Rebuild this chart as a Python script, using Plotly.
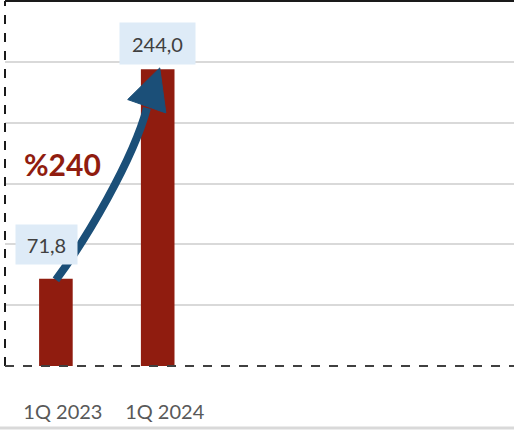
import plotly.graph_objs as go

# data
quarters = ["1Q 2023", "1Q 2024", " ", "  ", "   "]
values = [71.8, 244.0, None, None, None]
value_labels = ["71,8", "244,0"]
growth_label = "%240"

bar_red = "#901C0F"
arrow_blue = "#1B4F78"
label_bg = "#DEEBF7"
n_cat = len(quarters)
y_max = 300


def cat_x(i):
    # paper x of category centre
    return (i + 0.5) / n_cat


# curved arrow from first bar to second, in paper-x / data-y
x0, y0 = cat_x(0), values[0] - 1
tip_x, tip_y = cat_x(1) + 0.004, values[1] + 1
shaft = (f"M {x0},{y0} C {x0 + 0.059},{y0 + 33} {x0 + 0.151},{y0 + 98} "
         f"{tip_x - 0.025},{tip_y - 33}")
head = (f"M {tip_x},{tip_y} L {tip_x - 0.063},{tip_y - 26} "
        f"L {tip_x + 0.012},{tip_y - 37} Z")

fig = go.Figure(
    data=[
        go.Bar(x=quarters, y=values, width=0.33, marker_color=bar_red,
               marker_line_width=0, hoverinfo="skip"),
    ],
)

fig.update_layout(
    width=514, height=430,
    margin=dict(l=5, r=0, t=1, b=64),
    paper_bgcolor="white", plot_bgcolor="white",
    showlegend=False,
    font=dict(family="Lato, 'Open Sans', sans-serif", color="#595959"),
    xaxis=dict(range=[-0.5, n_cat - 0.5], showgrid=False, zeroline=False,
               showline=False, ticks="", tickfont=dict(size=20, color="#595959"),
               ticklabelstandoff=32, ticklabelshift=7, fixedrange=True),
    yaxis=dict(range=[0, y_max], dtick=50, showgrid=True, gridcolor="#D9D9D9",
               gridwidth=1.5, zeroline=False, showticklabels=False,
               showline=False, fixedrange=True),
    shapes=[
        dict(type="line", xref="paper", yref="paper", x0=0, x1=1, y0=1, y1=1,
             line=dict(color="#1a1a1a", width=2)),
        dict(type="line", xref="paper", yref="paper", x0=0, x1=0, y0=0, y1=1,
             line=dict(color="#1a1a1a", width=2, dash="dash")),
        dict(type="line", xref="paper", yref="paper", x0=0, x1=1, y0=0, y1=0,
             line=dict(color="#404040", width=2, dash="dash")),
        dict(type="line", xref="paper", yref="paper", x0=-0.01, x1=1, y0=-0.17, y1=-0.17,
             line=dict(color="#D9D9D9", width=3)),
        dict(type="path", xref="paper", yref="y", path=shaft,
             line=dict(color=arrow_blue, width=8)),
        dict(type="path", xref="paper", yref="y", path=head,
             fillcolor=arrow_blue, line=dict(color=arrow_blue, width=1)),
    ],
    annotations=[
        dict(x=quarters[0], y=values[0], text=value_labels[0], showarrow=False,
             xshift=-9, yshift=34, width=59, height=37, bgcolor=label_bg,
             font=dict(size=20, color="#404040")),
        dict(x=quarters[1], y=values[1], text=value_labels[1], showarrow=False,
             xshift=0, yshift=26, width=73, height=39, bgcolor=label_bg,
             font=dict(size=20, color="#404040")),
        dict(xref="paper", x=0.112, y=166, xanchor="center", yanchor="middle",
             text=f"<b>{growth_label}</b>",
             showarrow=False, font=dict(size=30, color=bar_red)),
    ],
)

fig.write_html("out.html", config={"displayModeBar": False},
               post_script="document.body.style.margin='0';document.body.style.overflow='hidden';")
